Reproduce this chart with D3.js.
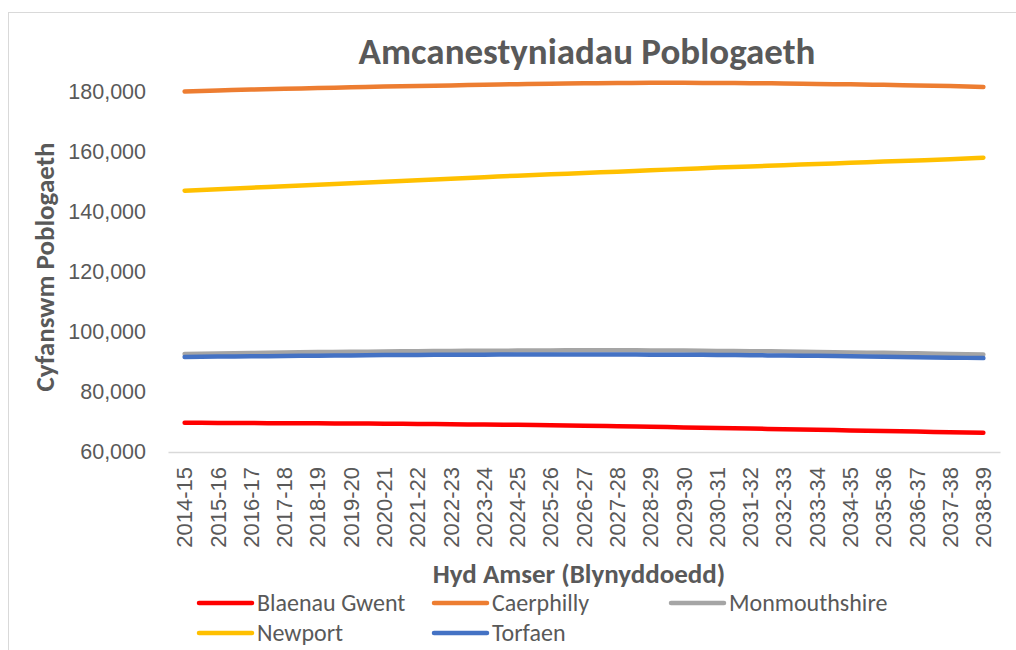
<!DOCTYPE html>
<html>
<head>
<meta charset="utf-8">
<script src="https://cdn.jsdelivr.net/npm/d3@7"></script>
<style>
  body { margin: 0; background: #fff; }
  svg { font-family: Carlito, "Open Sans", "Liberation Sans", sans-serif; }
</style>
</head>
<body>
<svg id="chart" width="1016" height="650"></svg>
<script>
// financial years along the x axis
const years = ["2014-15", "2015-16", "2016-17", "2017-18", "2018-19", "2019-20", "2020-21",
  "2021-22", "2022-23", "2023-24", "2024-25", "2025-26", "2026-27", "2027-28", "2028-29",
  "2029-30", "2030-31", "2031-32", "2032-33", "2033-34", "2034-35", "2035-36", "2036-37",
  "2037-38", "2038-39"];

const blaenauGwent = [69750, 69700, 69650, 69600, 69550, 69500, 69450, 69350, 69250, 69150,
  69050, 68900, 68750, 68600, 68400, 68200, 68000, 67800, 67600, 67400, 67200, 67000, 66800,
  66600, 66400];
const caerphilly = [180200, 180500, 180800, 181050, 181300, 181550, 181800, 182000, 182200,
  182400, 182600, 182750, 182900, 183000, 183050, 183050, 183000, 182950, 182850, 182700,
  182550, 182400, 182200, 182000, 181700];
const monmouthshire = [92700, 92850, 93000, 93150, 93300, 93400, 93500, 93600, 93700, 93750,
  93800, 93850, 93900, 93900, 93850, 93800, 93700, 93600, 93500, 93350, 93200, 93050, 92900,
  92700, 92500];
const newport = [147100, 147600, 148100, 148600, 149100, 149600, 150100, 150600, 151100,
  151600, 152100, 152550, 153000, 153450, 153900, 154350, 154800, 155200, 155600, 156000,
  156400, 156800, 157200, 157600, 158100];
const torfaen = [91700, 91800, 91900, 92000, 92100, 92200, 92300, 92350, 92400, 92450, 92500,
  92500, 92500, 92500, 92450, 92400, 92350, 92250, 92150, 92050, 91900, 91750, 91600, 91450,
  91300];

const seriesNames = ["Blaenau Gwent", "Caerphilly", "Monmouthshire", "Newport", "Torfaen"];
const seriesColors = ["#FF0000", "#ED7D31", "#A5A5A5", "#FFC000", "#4472C4"];
const yTicks = [60000, 80000, 100000, 120000, 140000, 160000, 180000];

const series = [blaenauGwent, caerphilly, monmouthshire, newport, torfaen].map((vals, i) => ({
  name: seriesNames[i],
  color: seriesColors[i],
  values: vals
}));

const svg = d3.select("#chart");
const textColor = "#595959";

// chart area border
svg.append("rect")
  .attr("x", 8.5).attr("y", 12.5)
  .attr("width", 1020).attr("height", 660)
  .attr("fill", "none")
  .attr("stroke", "#d9d9d9");

const x = d3.scaleBand().domain(years).range([168, 1000]);
const y = d3.scaleLinear().domain([60000, 180000]).range([452, 92]);

// title
svg.append("text")
  .attr("x", 587).attr("y", 64)
  .attr("text-anchor", "middle")
  .attr("font-size", 37).attr("font-weight", "bold")
  .attr("fill", textColor)
  .text("Amcanestyniadau Poblogaeth");

// y axis (labels only)
const yAxis = svg.append("g")
  .attr("transform", "translate(160,0)")
  .call(d3.axisLeft(y).tickValues(yTicks).tickSize(0).tickPadding(14)
    .tickFormat(d3.format(",")));
yAxis.select(".domain").remove();
yAxis.selectAll("text")
  .attr("font-size", 21.5).attr("fill", textColor)
  .attr("font-family", null);

// x axis
const xAxis = svg.append("g")
  .attr("transform", "translate(0," + y(60000) + ")")
  .call(d3.axisBottom(x).tickSize(0).tickPadding(0));
xAxis.select(".domain").attr("stroke", "#d9d9d9").attr("stroke-width", 1.3);
xAxis.selectAll("text")
  .attr("font-size", 22).attr("fill", textColor)
  .attr("font-family", null)
  .attr("transform", "rotate(-90)")
  .attr("text-anchor", "end")
  .attr("dy", "0.35em")
  .attr("x", -15).attr("y", 0);

// axis titles
svg.append("text")
  .attr("transform", "translate(54,267) rotate(-90)")
  .attr("text-anchor", "middle")
  .attr("font-size", 27).attr("font-weight", "bold")
  .attr("fill", textColor)
  .text("Cyfanswm Poblogaeth");

svg.append("text")
  .attr("x", 579).attr("y", 583)
  .attr("text-anchor", "middle")
  .attr("font-size", 27).attr("font-weight", "bold")
  .attr("fill", textColor)
  .text("Hyd Amser (Blynyddoedd)");

// lines
const line = d3.line()
  .x((d, i) => x(years[i]) + x.bandwidth() / 2)
  .y(d => y(d))
  .curve(d3.curveMonotoneX);

svg.append("g").selectAll("path")
  .data(series)
  .join("path")
  .attr("d", d => line(d.values))
  .attr("fill", "none")
  .attr("stroke", d => d.color)
  .attr("stroke-width", 4.5)
  .attr("stroke-linecap", "round");

// legend
const legendPos = [[199, 603], [434, 603], [671, 603], [199, 633], [434, 633]];
const legend = svg.append("g").selectAll("g")
  .data(series)
  .join("g")
  .attr("transform", (d, i) => "translate(" + legendPos[i][0] + "," + legendPos[i][1] + ")");
legend.append("line")
  .attr("x1", 0).attr("x2", 53)
  .attr("stroke", d => d.color)
  .attr("stroke-width", 4.5)
  .attr("stroke-linecap", "round");
legend.append("text")
  .attr("x", 58).attr("dy", "0.35em")
  .attr("font-size", 24).attr("fill", textColor)
  .text(d => d.name);
</script>
</body>
</html>
